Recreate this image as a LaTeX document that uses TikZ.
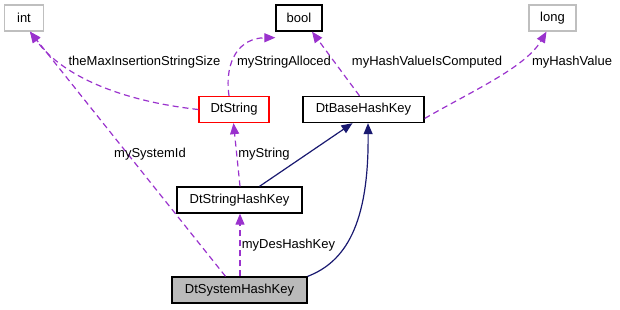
\documentclass[tikz,border=0pt]{standalone}
\usepackage{fontspec}
\setmainfont{Liberation Sans}
\usetikzlibrary{arrows.meta}
\definecolor{use_col}{HTML}{9A32CD}
\definecolor{inh_col}{HTML}{191970}
\tikzset{
  classnode/.style = {rectangle, draw=black, inner sep=0pt, align=center,
    font=\fontsize{13}{15}\selectfont, minimum height=26pt, line width=1.3pt},
  type_node/.style = {classnode, draw=black!25},% type de base
  red_node/.style = {classnode, draw=red},% classe documentee
  main_node/.style = {classnode, fill=black!27},% classe courante
  edge_label/.style = {font=\fontsize{13}{15}\selectfont, inner sep=0pt},
  use_edge/.style = {draw=use_col, line width=1.2pt, dash pattern=on 6pt off 4pt,
    -{Triangle[length=11pt, width=9pt, fill=use_col]}},% membre
  inh_edge/.style = {draw=inh_col, line width=1.2pt,
    -{Triangle[length=11pt, width=9pt, fill=inh_col]}}% heritage
}
\begin{document}
\begin{tikzpicture}[x=1pt, y=-1pt]
  \useasboundingbox (0,0) rectangle (620,309);
  % types
  \node [type_node, minimum width=39pt] (int) at (24,18) {int};
  \node [classnode, minimum width=46pt] (bool) at (299,18) {bool};
  \node [type_node, minimum width=47pt] (long) at (552.5,18) {long};
  % classes
  \node [red_node, minimum width=70pt] (dtstring) at (234,109.5) {DtString};
  \node [classnode, minimum width=121pt] (basekey) at (363.5,109.5) {DtBaseHashKey};
  \node [classnode, minimum width=125pt] (strkey) at (239.5,200) {DtStringHashKey};
  \node [main_node, minimum width=135pt] (syskey) at (239.5,290) {DtSystemHashKey};
  % membres
  \draw [use_edge] ([xshift=-14pt]syskey.north) -- ([xshift=6pt]int.south);
  \draw [use_edge] (dtstring.west) .. controls (130,102) and (65,80) .. ([xshift=6pt]int.south);
  \draw [use_edge] ([xshift=-5pt]dtstring.north) .. controls (224,60) and (240,38) .. ([yshift=-6pt]bool.south west);
  \draw [use_edge] ([xshift=-4pt]basekey.north) -- ([xshift=13pt]bool.south);
  \draw [use_edge] ([yshift=-9pt]basekey.east) .. controls (470,92) and (525,68) .. ([xshift=-6pt]long.south);
  \draw [use_edge] ([xshift=0.5pt]strkey.north) -- ([xshift=-0.5pt]dtstring.south);
  \draw [use_edge] ([xshift=0.5pt]syskey.north) -- ([xshift=0.5pt]strkey.south);
  % heritage
  \draw [inh_edge] ([xshift=20pt]strkey.north) -- ([xshift=-11pt]basekey.south);
  \draw [inh_edge] (syskey.north east) .. controls (345,262) and (369,225) .. ([xshift=4.5pt]basekey.south);
  % etiquettes
  \node [edge_label] (lsysid) at (150,154) {mySystemId};
  \node [edge_label] (lmaxins) at (144.5,62) {theMaxInsertionStringSize};
  \node [edge_label] (lalloc) at (284,62) {myStringAlloced};
  \node [edge_label] (lcomp) at (427,62) {myHashValueIsComputed};
  \node [edge_label] (lhash) at (572,62) {myHashValue};
  \node [edge_label] (lstr) at (264,154) {myString};
  \node [edge_label] (ldes) at (288.5,245) {myDesHashKey};
\end{tikzpicture}
\end{document}
